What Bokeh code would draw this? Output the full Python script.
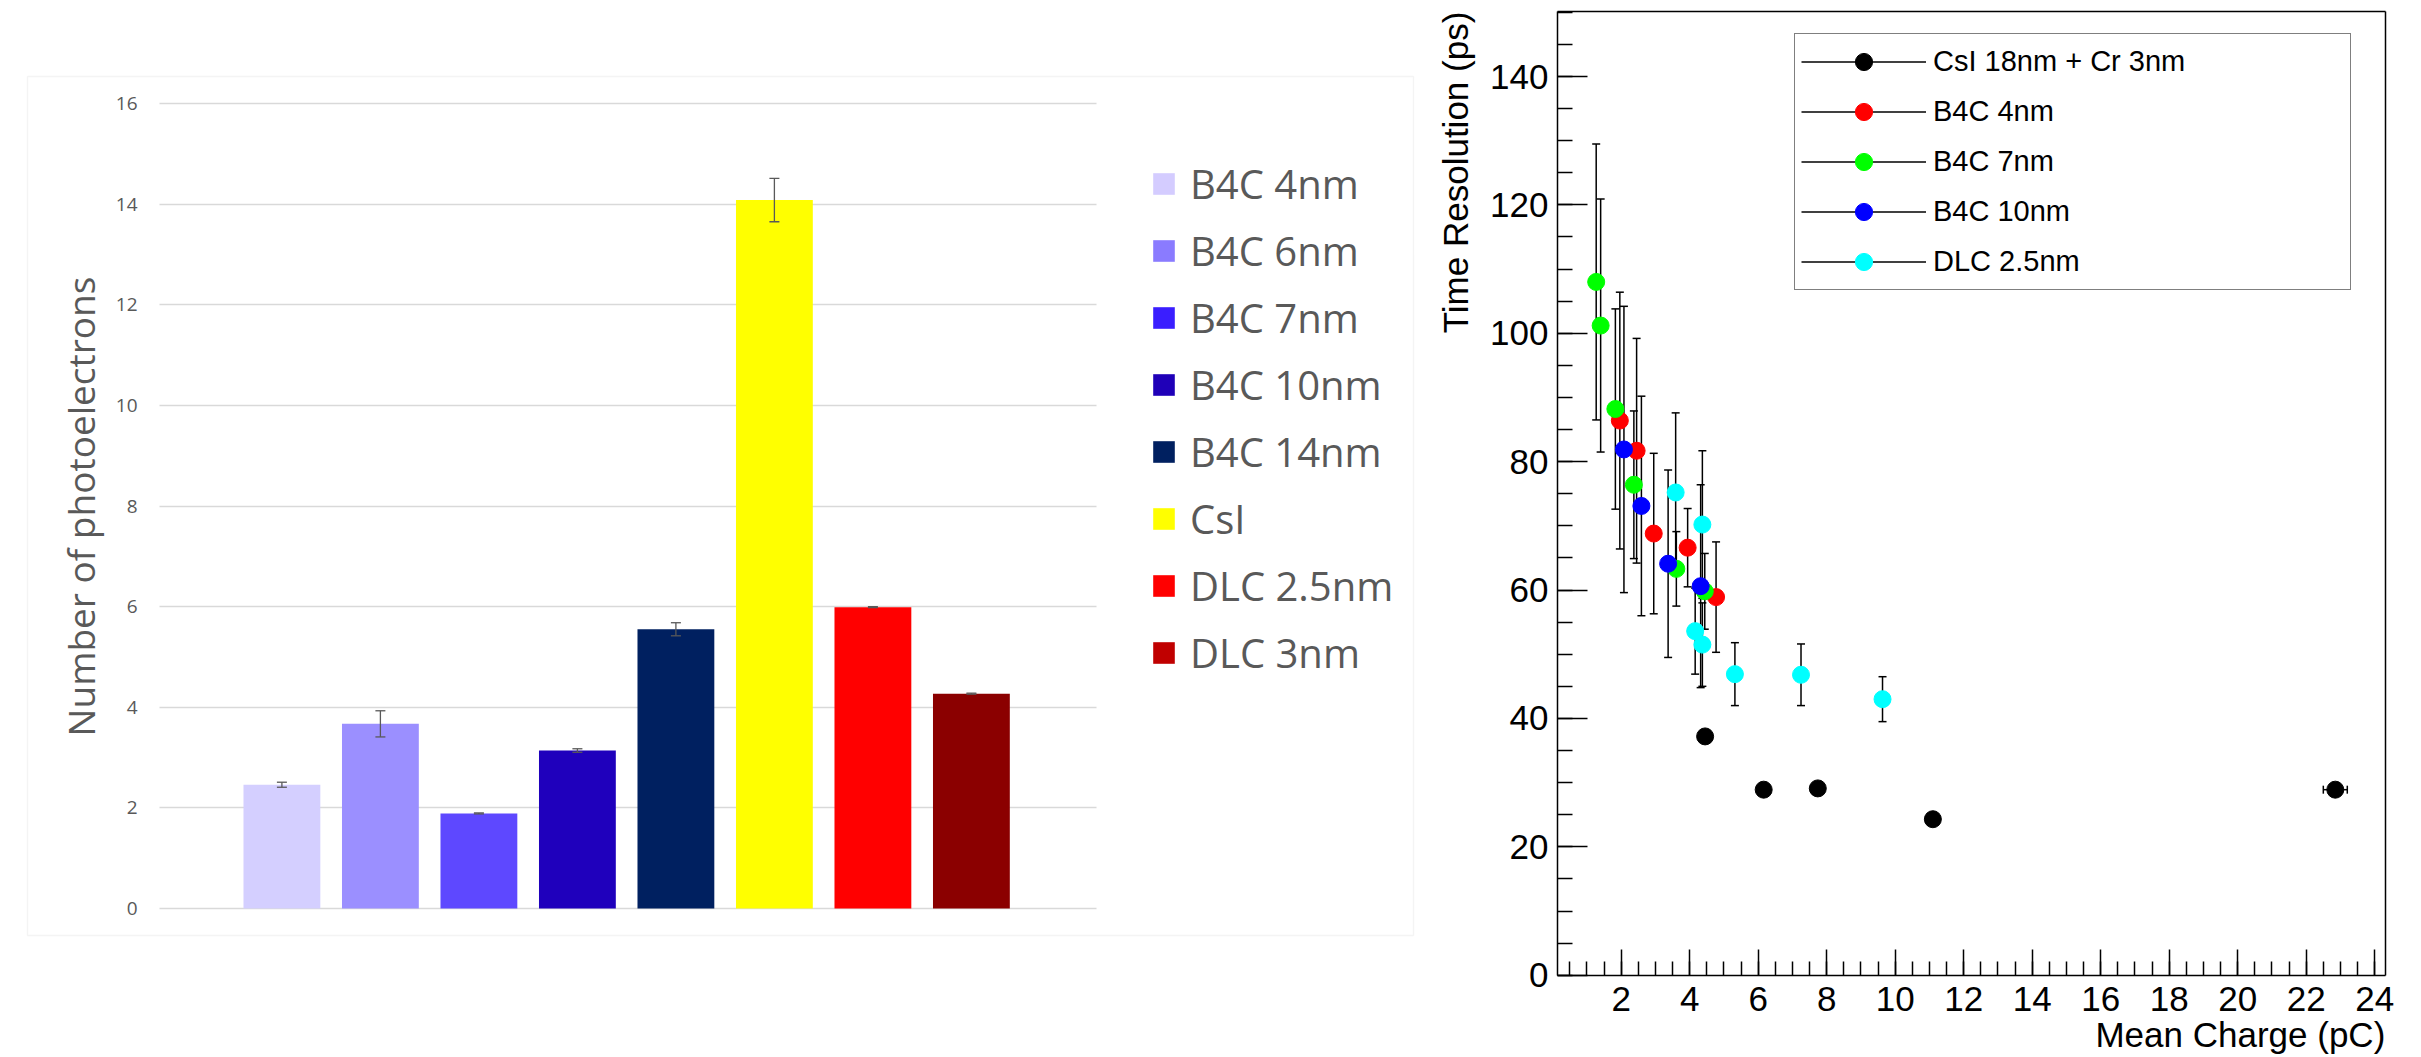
import math
from bokeh.plotting import figure
from bokeh.models import (ColumnDataSource, Whisker, TeeHead, Legend, LegendItem, LinearAxis,
                          FixedTicker, SingleIntervalTicker, Range1d, Label, Grid, BoxAnnotation)
from bokeh.layouts import row
from bokeh.embed import file_html
from bokeh.resources import INLINE

# ---------------- data: left panel (bar chart) ----------------
bar_names = ["B4C 4nm", "B4C 6nm", "B4C 7nm", "B4C 10nm", "B4C 14nm", "CsI", "DLC 2.5nm", "DLC 3nm"]
bar_values = [2.46, 3.67, 1.89, 3.14, 5.55, 14.08, 5.99, 4.27]
bar_errors = [0.05, 0.26, 0.01, 0.035, 0.13, 0.43, 0.01, 0.01]
bar_colors = ["#D4CFFF", "#9B8FFF", "#5E48FF", "#1F00BC", "#002060", "#FFFF00", "#FF0000", "#8B0000"]
legend_colors = ["#D4CCFF", "#8A7BFF", "#3A1EFF", "#1F00B8", "#002060", "#FFFF00", "#FF0000", "#C00000"]
bar_y_ticks = [0, 2, 4, 6, 8, 10, 12, 14, 16]

# ---------------- data: right panel (time resolution) ----------------
csi_x = [4.45, 6.16, 7.74, 11.1, 22.85]
csi_y = [37.2, 28.9, 29.1, 24.3, 28.9]
csi_yerr = [0.8, 0.6, 0.6, 0.6, 0.6]
csi_xerr = [0.05, 0.05, 0.05, 0.06, 0.35]

b4c4_x = [1.96, 2.45, 2.95, 3.94, 4.77]
b4c4_y = [86.4, 81.7, 68.8, 66.6, 58.9]
b4c4_err = [20.0, 17.5, 12.5, 6.1, 8.6]

b4c7_x = [1.27, 1.40, 1.83, 2.37, 3.61, 4.44]
b4c7_y = [108.0, 101.2, 88.2, 76.4, 63.3, 59.8]
b4c7_err = [21.5, 19.7, 15.6, 11.5, 5.8, 5.9]

b4c10_x = [2.08, 2.59, 3.37, 4.32]
b4c10_y = [81.9, 73.1, 64.1, 60.6]
b4c10_err = [22.3, 17.1, 14.6, 15.8]

dlc_x = [3.59, 4.37, 4.16, 4.37, 5.32, 7.25, 9.63]
dlc_y = [75.2, 70.2, 53.6, 51.5, 46.9, 46.8, 43.0]
dlc_err = [12.4, 11.5, 6.7, 6.5, 4.9, 4.8, 3.5]

GRAY_TXT = "#595959"
GRID_COL = "#D9D9D9"
NAN = float("nan")
H = 1055

# ======================= LEFT FIGURE =======================
# whole canvas is the frame; the chart-area box is drawn inside it
xl0, xl1 = -1.8569, 12.6102
yl0, yl1 = -2.9217, 18.0472
box_l, box_r, box_b, box_t = -1.5827, 12.4883, -0.5366, 16.5366
grid_x0, grid_x1 = -0.2426, 9.27

pL = figure(width=1425, height=H, output_backend="svg", toolbar_location=None,
            x_range=Range1d(xl0, xl1), y_range=Range1d(yl0, yl1),
            x_axis_location=None, y_axis_location=None,
            min_border_left=0, min_border_right=0, min_border_top=0, min_border_bottom=0)
pL.grid.visible = False
pL.outline_line_color = None
pL.background_fill_color = "white"
pL.border_fill_color = "white"

pL.add_layout(BoxAnnotation(left=box_l, right=box_r, bottom=box_b, top=box_t,
                            fill_alpha=0, line_color=GRID_COL, line_width=1.3, level="underlay"))

yaxL = LinearAxis(fixed_location=grid_x0, ticker=FixedTicker(ticks=bar_y_ticks))
yaxL.axis_line_color = None
yaxL.major_tick_line_color = None
yaxL.minor_tick_line_color = None
yaxL.major_tick_out = 0
yaxL.major_label_standoff = 22
yaxL.major_label_text_font = "Open Sans"
yaxL.major_label_text_font_size = "19px"
yaxL.major_label_text_color = GRAY_TXT
pL.add_layout(yaxL, "left")

if "cross_bounds" in Grid.properties():
    gL = Grid(dimension=1, axis=yaxL, grid_line_color=GRID_COL, grid_line_width=1.3)
    gL.cross_bounds = (grid_x0, grid_x1)
    pL.add_layout(gL, "center")
else:
    pL.segment(x0=[grid_x0] * len(bar_y_ticks), x1=[grid_x1] * len(bar_y_ticks),
               y0=bar_y_ticks, y1=bar_y_ticks, line_color=GRID_COL, line_width=1.3, level="underlay")

bar_pos = list(range(1, len(bar_values) + 1))
srcL = ColumnDataSource(dict(
    x=bar_pos, top=bar_values, color=bar_colors, name=bar_names,
    upper=[v + e for v, e in zip(bar_values, bar_errors)],
    lower=[v - e for v, e in zip(bar_values, bar_errors)],
))
pL.vbar(x="x", top="top", bottom=0, width=0.78, fill_color="color", line_color=None, source=srcL)
pL.add_layout(Whisker(source=srcL, base="x", upper="upper", lower="lower", dimension="height",
                      line_color=GRAY_TXT, line_width=1.3, level="annotation",
                      upper_head=TeeHead(size=10, line_color=GRAY_TXT, line_width=1.3),
                      lower_head=TeeHead(size=10, line_color=GRAY_TXT, line_width=1.3)))

itemsL = []
for name, col in zip(bar_names, legend_colors):
    r = pL.vbar(x=[NAN], top=[NAN], width=0.5, fill_color=col, line_color=None)
    itemsL.append(LegendItem(label=name, renderers=[r]))
legL = Legend(items=itemsL, location=(1150, 373), margin=0, padding=10,
              glyph_width=27, glyph_height=27, label_height=60, spacing=7, label_standoff=13,
              label_text_font="Open Sans", label_text_font_size="40px", label_text_color=GRAY_TXT,
              border_line_color=None, background_fill_alpha=0)
pL.add_layout(legL)

pL.add_layout(Label(x=-1.04, y=7.99, x_units="data", y_units="data",
                    text="Number of photoelectrons", angle=math.pi / 2,
                    text_align="center", text_baseline="alphabetic",
                    text_font="Open Sans", text_font_size="37px", text_color=GRAY_TXT))

# ======================= RIGHT FIGURE =======================
xr0, xr1 = -3.7139, 25.250        # canvas extent
yr0, yr1 = -12.509, 151.84
fx0, fx1 = 0.14, 24.31            # drawn frame (axis box)
fy0, fy1 = 0.0, 150.1

pR = figure(width=992, height=H, output_backend="svg", toolbar_location=None,
            x_range=Range1d(xr0, xr1), y_range=Range1d(yr0, yr1),
            x_axis_location=None, y_axis_location=None,
            min_border_left=0, min_border_right=0, min_border_top=0, min_border_bottom=0)
pR.grid.visible = False
pR.outline_line_color = None
pR.background_fill_color = "white"
pR.border_fill_color = "white"

xa = LinearAxis(fixed_location=fy0, bounds=(fx0, fx1),
                ticker=SingleIntervalTicker(interval=2, num_minor_ticks=4))
xa.major_tick_in = 26
xa.major_tick_out = 0
xa.minor_tick_in = 14
xa.minor_tick_out = 0
xa.major_label_standoff = 12
pR.add_layout(xa, "below")

ya = LinearAxis(fixed_location=fx0, bounds=(fy0, fy1),
                ticker=SingleIntervalTicker(interval=20, num_minor_ticks=4))
ya.major_tick_in = 30
ya.major_tick_out = 0
ya.minor_tick_in = 15
ya.minor_tick_out = 0
ya.major_label_standoff = 9
pR.add_layout(ya, "left")

for ax in (xa, ya):
    ax.axis_line_color = "black"
    ax.axis_line_width = 1.5
    ax.major_tick_line_color = "black"
    ax.major_tick_line_width = 1.5
    ax.minor_tick_line_color = "black"
    ax.minor_tick_line_width = 1.5
    ax.major_label_text_font = "Liberation Sans"
    ax.major_label_text_font_size = "35px"
    ax.major_label_text_color = "black"

top_ax = LinearAxis(fixed_location=fy1, bounds=(fx0, fx1), ticker=FixedTicker(ticks=[]))
right_ax = LinearAxis(fixed_location=fx1, bounds=(fy0, fy1), ticker=FixedTicker(ticks=[]))
for ax in (top_ax, right_ax):
    ax.axis_line_color = "black"
    ax.axis_line_width = 1.5
    ax.major_tick_line_color = None
    ax.minor_tick_line_color = None
pR.add_layout(top_ax, "above")
pR.add_layout(right_ax, "right")

series = [
    ("CsI 18nm + Cr 3nm", csi_x, csi_y, csi_yerr, "#000000"),
    ("B4C 4nm", b4c4_x, b4c4_y, b4c4_err, "#FF0000"),
    ("B4C 7nm", b4c7_x, b4c7_y, b4c7_err, "#00FF00"),
    ("B4C 10nm", b4c10_x, b4c10_y, b4c10_err, "#0000FF"),
    ("DLC 2.5nm", dlc_x, dlc_y, dlc_err, "#00FFFF"),
]

def tee():
    return TeeHead(size=8, line_color="black", line_width=1.5)

itemsR = []
for name, xs, ys, es, col in series:
    src = ColumnDataSource(dict(x=xs, y=ys,
                                upper=[y + e for y, e in zip(ys, es)],
                                lower=[y - e for y, e in zip(ys, es)]))
    pR.add_layout(Whisker(source=src, base="x", upper="upper", lower="lower", dimension="height",
                          line_color="black", line_width=1.5, upper_head=tee(), lower_head=tee()))
    if name.startswith("CsI"):
        xsrc = ColumnDataSource(dict(y=ys,
                                     xu=[x + e for x, e in zip(xs, csi_xerr)],
                                     xl=[x - e for x, e in zip(xs, csi_xerr)]))
        pR.add_layout(Whisker(source=xsrc, base="y", upper="xu", lower="xl", dimension="width",
                              line_color="black", line_width=1.5, upper_head=tee(), lower_head=tee()))
    sc = pR.scatter("x", "y", source=src, marker="circle", size=17, fill_color=col, line_color=col)
    ln = pR.line(x=[NAN], y=[NAN], line_color="black", line_width=1.5)
    itemsR.append(LegendItem(label=name, renderers=[ln, sc]))

legR = Legend(items=itemsR, location=(369, 765), margin=0, padding=6,
              glyph_width=125, glyph_height=43, spacing=7, label_standoff=7, label_width=411,
              label_text_font="Liberation Sans", label_text_font_size="29px", label_text_color="black",
              border_line_color="black", border_line_width=1.5,
              background_fill_color="white", background_fill_alpha=1.0)
pR.add_layout(legR)

pR.add_layout(Label(x=-2.84, y=fy1, x_units="data", y_units="data",
                    text="Time Resolution (ps)", angle=math.pi / 2,
                    text_align="right", text_baseline="alphabetic",
                    text_font="Liberation Sans", text_font_size="35px", text_color="black"))
pR.add_layout(Label(x=fx1, y=-9.2, x_units="data", y_units="data",
                    text="Mean Charge (pC)", text_align="right", text_baseline="alphabetic",
                    text_font="Liberation Sans", text_font_size="35px", text_color="black"))

layout = row(pL, pR)
open("out.html", "w").write(file_html(layout, INLINE))
